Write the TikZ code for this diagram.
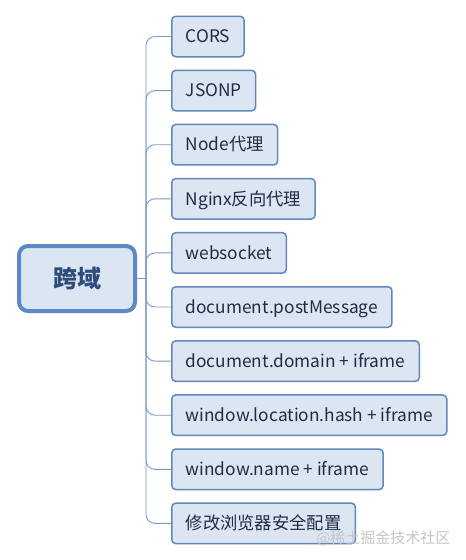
\documentclass[tikz,border=0pt]{standalone}
\usepackage{fontspec}
\setmainfont{Noto Sans CJK SC}
\usetikzlibrary{positioning}
\definecolor{rootline}{HTML}{5A89C5}
\definecolor{boxline}{HTML}{6088BA}
\definecolor{boxfill}{HTML}{DCE6F3}
\definecolor{roottext}{HTML}{2E4D7C}
\definecolor{itemtext}{HTML}{1E2D45}
\definecolor{linkline}{HTML}{7C9BC4}

\begin{document}
\begin{tikzpicture}[x=1pt, y=-1pt,
    root/.style={draw=rootline, line width=4pt, fill=boxfill, rounded corners=9pt, text=roottext, font=\fontsize{24}{28}\selectfont\bfseries, minimum width=116pt, minimum height=65pt},
    item/.style={draw=boxline, line width=1.5pt, fill=boxfill, rounded corners=4pt, text=itemtext, font=\fontsize{17.3}{20}\selectfont, inner xsep=14pt, inner ysep=2pt, text height=13pt, text depth=0.5pt, minimum height=40.5pt},
    link/.style={draw=linkline, line width=0.9pt, rounded corners=9pt}
  ]
    \fill[white] (0,0) rectangle (466,560);
    \useasboundingbox (0,0) rectangle (466,560);

    \node[root] (kuayu) at (77,278.5) {跨域};
    \coordinate (trunk) at (146,278.5);

    \node[item, anchor=west] (cors) at (171,36.5) {CORS};
    \node[item, below right=12.1pt and 0pt of cors.south west] (jsonp) {JSONP};
    \node[item, below right=12.1pt and 0pt of jsonp.south west] (nodeproxy) {Node代理};
    \node[item, below right=12.1pt and 0pt of nodeproxy.south west] (nginx) {Nginx反向代理};
    \node[item, below right=12.1pt and 0pt of nginx.south west] (websocket) {websocket};
    \node[item, below right=12.1pt and 0pt of websocket.south west] (postmsg) {document.postMessage};
    \node[item, below right=12.1pt and 0pt of postmsg.south west] (domain) {document.domain + iframe};
    \node[item, below right=12.1pt and 0pt of domain.south west] (hash) {window.location.hash + iframe};
    \node[item, below right=12.1pt and 0pt of hash.south west] (winname) {window.name + iframe};
    \node[item, below right=12.1pt and 0pt of winname.south west] (browser) {修改浏览器安全配置};

    \draw[link] (kuayu.east) -- (trunk);
    \foreach \child in {cors,jsonp,nodeproxy,nginx,websocket,postmsg,domain,hash,winname,browser}
      \draw[link] (trunk) |- (\child.west);

    % watermark
    \node[text=gray!45, font=\fontsize{15}{17}\selectfont, anchor=east] (mark) at (454,538) {@稀土掘金技术社区};
\end{tikzpicture}
\end{document}
